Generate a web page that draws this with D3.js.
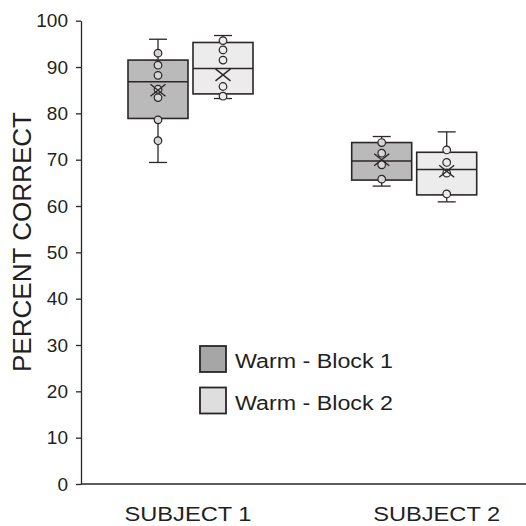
<!DOCTYPE html>
<html>
<head>
<meta charset="utf-8">
<script src="https://cdn.jsdelivr.net/npm/d3@7"></script>
<style>
  html, body { margin: 0; padding: 0; background: #fff; }
  svg { display: block; }
</style>
</head>
<body>
<div id="chart"></div>
<script>
// subjects on the x axis, blocks as the two boxes in each subject
const subjects = ["SUBJECT 1", "SUBJECT 2"];
const blocks = ["Warm - Block 1", "Warm - Block 2"];
const yTicks = [0, 10, 20, 30, 40, 50, 60, 70, 80, 90, 100];

// box statistics, one entry per subject x block
const boxSubject = ["SUBJECT 1", "SUBJECT 1", "SUBJECT 2", "SUBJECT 2"];
const boxBlock = ["Warm - Block 1", "Warm - Block 2", "Warm - Block 1", "Warm - Block 2"];
const whiskerLow = [69.4, 83.2, 64.3, 60.9];
const q1 = [78.9, 84.2, 65.6, 62.4];
const median = [86.8, 89.7, 69.7, 67.9];
const q3 = [91.5, 95.3, 73.7, 71.6];
const whiskerHigh = [96.0, 96.8, 75.0, 76.0];
const means = [85.0, 88.3, 70.0, 67.5];
const points = [
  [93.0, 90.4, 88.2, 85.2, 83.4, 78.6, 74.1],
  [95.7, 93.7, 91.5, 85.8, 83.7],
  [73.7, 71.4, 68.9, 65.8],
  [72.1, 69.4, 67.1, 62.6]
];

const width = 526;
const height = 526;
const ink = "#2b2627";
const boxFill = { "Warm - Block 1": "#bababa", "Warm - Block 2": "#ececec" };
const dotFill = { "Warm - Block 1": "#d6d6d6", "Warm - Block 2": "#ededed" };
const legendFill = { "Warm - Block 1": "#a6a6a6", "Warm - Block 2": "#dedede" };
const font = "Liberation Sans, Arial, Helvetica, sans-serif";

const axisX = 81;
const y = d3.scaleLinear().domain([0, 100]).range([484, 20.7]);
const x = d3.scalePoint().domain(subjects).range([190.5, 414.2]);
const xInner = d3.scaleBand().domain(blocks).range([-62.5, 62.5]).paddingInner(0.077);
const bw = xInner.bandwidth();
const capW = 18;

const boxes = boxSubject.map((s, i) => ({
  subject: s,
  block: boxBlock[i],
  lo: whiskerLow[i],
  q1: q1[i],
  med: median[i],
  q3: q3[i],
  hi: whiskerHigh[i],
  mean: means[i],
  pts: points[i]
}));

const svg = d3.select("#chart")
  .append("svg")
  .attr("width", width)
  .attr("height", height)
  .attr("font-family", font);

// y axis
const yAxis = svg.append("g")
  .attr("transform", `translate(${axisX},0)`)
  .call(d3.axisLeft(y).tickValues(yTicks).tickSize(5).tickSizeOuter(0).tickPadding(8));
yAxis.select(".domain").attr("stroke", ink).attr("stroke-width", 1.3);
yAxis.selectAll(".tick line").attr("stroke", ink).attr("stroke-width", 1.3);
yAxis.selectAll(".tick text")
  .attr("fill", "#231f20")
  .attr("font-size", 19)
  .attr("font-family", font);

// x axis baseline
svg.append("line")
  .attr("x1", axisX).attr("x2", width)
  .attr("y1", y(0)).attr("y2", y(0))
  .attr("stroke", ink).attr("stroke-width", 1.3);

// subject labels (the figure sets them slightly off the box centres, and wider)
const labelShift = [-2.5, 22.5];
svg.append("g")
  .selectAll("text")
  .data(subjects)
  .join("text")
  .attr("x", (d, i) => x(d) + labelShift[i])
  .attr("y", 521)
  .attr("text-anchor", "middle")
  .attr("font-size", 21)
  .attr("textLength", 127)
  .attr("lengthAdjust", "spacingAndGlyphs")
  .attr("fill", "#231f20")
  .text((d) => d);

// y title
svg.append("text")
  .attr("transform", `translate(31,242) rotate(-90)`)
  .attr("text-anchor", "middle")
  .attr("font-size", 25)
  .attr("textLength", 260)
  .attr("lengthAdjust", "spacingAndGlyphs")
  .attr("fill", "#231f20")
  .text("PERCENT CORRECT");

// boxes
const g = svg.append("g")
  .selectAll("g")
  .data(boxes)
  .join("g")
  .attr("transform", (d) => `translate(${x(d.subject) + xInner(d.block) + bw / 2},0)`)
  .attr("stroke", ink)
  .attr("stroke-width", 1.3);

g.append("line")
  .attr("y1", (d) => y(d.lo))
  .attr("y2", (d) => y(d.hi));

g.selectAll(".cap")
  .data((d) => [d.lo, d.hi])
  .join("line")
  .attr("x1", -capW / 2).attr("x2", capW / 2)
  .attr("y1", (v) => y(v)).attr("y2", (v) => y(v));

g.append("rect")
  .attr("x", -bw / 2)
  .attr("width", bw)
  .attr("y", (d) => y(d.q3))
  .attr("height", (d) => y(d.q1) - y(d.q3))
  .attr("fill", (d) => boxFill[d.block])
  .attr("stroke-width", 1.6);

g.append("line")
  .attr("x1", -bw / 2).attr("x2", bw / 2)
  .attr("y1", (d) => y(d.med)).attr("y2", (d) => y(d.med))
  .attr("stroke-width", 1.5);

g.each(function (d) {
  d3.select(this).selectAll("circle")
    .data(d.pts)
    .join("circle")
    .attr("cx", 0)
    .attr("cy", (v) => y(v))
    .attr("r", 3.8)
    .attr("fill", dotFill[d.block])
    .attr("stroke-width", 1.2);
});

// mean marker
g.append("path")
  .attr("d", (d) => {
    const cy = y(d.mean);
    return `M-7.5,${cy - 6}Q0,${cy} 7.5,${cy + 6}M7.5,${cy - 6}Q0,${cy} -7.5,${cy + 6}`;
  })
  .attr("fill", "none")
  .attr("stroke-width", 1.4);

// legend
const legend = svg.append("g")
  .selectAll("g")
  .data(blocks)
  .join("g")
  .attr("transform", (d, i) => `translate(200,${346 + i * 41.5})`);

legend.append("rect")
  .attr("width", 26)
  .attr("height", 26)
  .attr("fill", (d) => legendFill[d])
  .attr("stroke", ink)
  .attr("stroke-width", 1.8);

legend.append("text")
  .attr("x", 35)
  .attr("y", 22)
  .attr("font-size", 19.5)
  .attr("textLength", 158)
  .attr("lengthAdjust", "spacingAndGlyphs")
  .attr("fill", "#231f20")
  .text((d) => d);
</script>
</body>
</html>
